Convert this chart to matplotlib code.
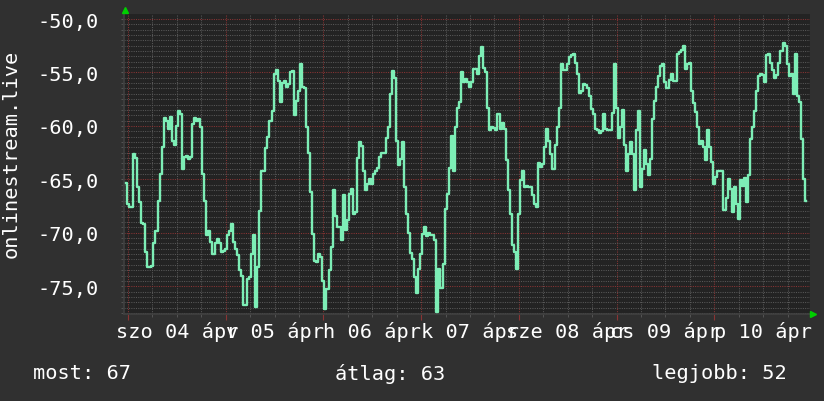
import numpy as np
import matplotlib
matplotlib.use("Agg")
import matplotlib.pyplot as plt
from matplotlib.ticker import MultipleLocator, FixedLocator, NullFormatter

# half-hourly samples, starting 03 Apr 23:30 (hours relative to 04 Apr 00:00)
start_hour = -0.5
step_hour = 0.5
values = [
    -65.3, -67.3, -67.6, -67.6, -62.6, -63.0, -65.7, -67.1, -69.1, -69.2,
    -71.8, -73.2, -73.2, -73.1, -71.0, -69.8, -67.0, -64.5, -62.0, -59.3,
    -59.5, -60.3, -59.2, -61.4, -61.8, -60.0, -58.6, -58.9, -64.0, -62.9,
    -62.8, -63.1, -62.9, -59.8, -59.3, -59.5, -59.4, -60.1, -64.5, -67.0,
    -70.2, -69.8, -70.9, -72.0, -71.0, -70.6, -71.0, -71.8, -71.7, -71.5,
    -70.2, -69.8, -69.2, -70.9, -71.5, -72.1, -73.5, -74.0, -76.8, -76.8,
    -74.3, -74.1, -72.0, -70.2, -76.9, -73.2, -68.0, -64.2, -64.2, -62.1,
    -61.0, -59.5, -58.6, -55.1, -54.8, -55.8, -57.8, -56.0, -55.8, -56.4,
    -56.1, -55.0, -54.9, -59.0, -57.7, -56.7, -54.2, -56.4, -56.5, -60.1,
    -62.5, -66.2, -70.1, -72.6, -72.7, -72.0, -72.3, -74.5, -77.1, -75.3,
    -73.5, -71.3, -66.0, -68.4, -69.5, -69.5, -70.7, -66.5, -69.7, -68.8,
    -66.4, -65.9, -68.2, -68.1, -63.0, -61.5, -61.9, -64.2, -66.0, -65.4,
    -65.0, -65.4, -64.5, -64.2, -63.9, -62.9, -62.5, -62.5, -61.1, -60.1,
    -57.0, -54.9, -55.5, -61.4, -63.7, -63.1, -61.5, -65.7, -68.2, -70.0,
    -71.9, -72.5, -74.1, -75.6, -73.4, -72.0, -70.1, -69.5, -70.3, -70.0,
    -70.2, -70.2, -70.7, -77.4, -73.4, -75.2, -72.9, -67.8, -66.4, -63.9,
    -60.9, -64.2, -60.1, -58.3, -57.8, -55.0, -55.9, -55.6, -55.9, -56.4,
    -55.9, -54.7, -54.7, -55.1, -53.5, -52.6, -54.6, -55.0, -58.3, -60.4,
    -60.1, -60.2, -60.4, -58.9, -60.3, -59.7, -60.3, -63.2, -66.0, -68.2,
    -71.1, -71.8, -73.4, -68.2, -65.1, -64.2, -65.7, -65.6, -65.7, -65.7,
    -66.5, -67.3, -67.6, -63.5, -63.8, -63.6, -62.0, -60.3, -61.4, -62.6,
    -64.0, -61.8, -60.1, -58.3, -54.2, -54.8, -54.8, -54.2, -53.6, -53.4,
    -53.3, -54.1, -55.1, -56.9, -56.7, -56.1, -56.2, -56.5, -57.2, -58.4,
    -58.9, -60.3, -60.4, -60.7, -60.5, -58.9, -60.3, -60.4, -60.4, -58.8,
    -54.2, -58.3, -61.1, -60.1, -58.5, -61.8, -64.2, -62.6, -61.5, -62.6,
    -66.0, -60.4, -58.6, -65.7, -64.0, -62.3, -63.6, -64.6, -63.1, -59.4,
    -57.7, -56.4, -55.3, -54.4, -54.2, -55.9, -56.5, -55.7, -55.1, -55.8,
    -55.8, -53.3, -53.1, -52.9, -52.5, -54.7, -54.2, -54.1, -56.7, -57.9,
    -58.7, -60.1, -61.7, -61.4, -62.0, -63.2, -60.4, -62.0, -63.4, -65.4,
    -64.8, -64.2, -64.2, -64.2, -67.9, -66.7, -65.0, -65.9, -68.1, -65.7,
    -67.3, -68.7, -65.1, -65.6, -64.9, -67.1, -64.6, -61.2, -60.1, -58.6,
    -56.7, -55.3, -55.1, -55.2, -55.9, -53.4, -53.3, -54.1, -54.8, -55.5,
    -55.2, -54.1, -53.0, -52.2, -52.5, -54.2, -55.3, -55.1, -57.0, -53.3,
    -57.2, -57.8, -61.2, -65.0, -67.0,
]
hours = start_hour + step_hour * np.arange(len(values))

day_labels = ["szo 04 ápr", "v 05 ápr", "h 06 ápr", "k 07 ápr",
              "sze 08 ápr", "cs 09 ápr", "p 10 ápr"]
y_label = "onlinestream.live"
legend_items = ["most: 67", "átlag: 63", "legjobb: 52"]

bg = "#303030"
canvas = "#232323"
line_col = "#7deeb6"
mono = "DejaVu Sans Mono"
fs = 14.6

fig = plt.figure(figsize=(8.24, 4.02), dpi=100, facecolor=bg)
ax = fig.add_axes([124 / 824, 1 - 315 / 402, (810 - 124) / 824, (315 - 15) / 402])
ax.set_facecolor(canvas)

ax.set_xlim(-0.98, 167.5)
ax.set_ylim(-77.6, -49.53)

ax.yaxis.set_major_locator(MultipleLocator(5))
ax.yaxis.set_minor_locator(MultipleLocator(0.5))
ax.xaxis.set_major_locator(FixedLocator(np.arange(0, 168, 24)))
ax.xaxis.set_minor_locator(MultipleLocator(6))
ax.xaxis.set_major_formatter(NullFormatter())

dots = (0, (1, 1.2))
ax.grid(which="minor", color="#585858", linestyle=dots, linewidth=0.75)
ax.grid(which="major", color="#8a3434", linestyle=dots, linewidth=0.75)
ax.set_axisbelow(True)

ax.set_yticklabels([f"{v:.1f}".replace(".", ",") for v in ax.get_yticks()],
                   fontfamily=mono, fontsize=fs, color="white")
ax.tick_params(axis="y", which="both", length=2, color="#5a5a5a", pad=16)
ax.tick_params(axis="x", which="major", length=4, color="#8a3434", direction="out")
ax.tick_params(axis="x", which="minor", length=2, color="#5a5a5a", direction="out")
for s in ax.spines.values():
    s.set_visible(False)
ax.axhline(-77.6, color="#404040", lw=1.2, clip_on=False)
ax.axvline(-0.98, color="#404040", lw=1.2, clip_on=False)

ax.plot(hours, values, color=line_col, lw=1.7, drawstyle="steps-mid", zorder=3)

# rrd style arrows
ax.plot([0.002], [1.012], marker="^", color="#00d000", ms=5, transform=ax.transAxes, clip_on=False)
ax.plot([1.004], [0.0], marker=">", color="#00d000", ms=5, transform=ax.transAxes, clip_on=False)

for i, lab in enumerate(day_labels):
    ax.text(12 + 24 * i, -0.055, lab, transform=ax.get_xaxis_transform(),
            ha="center", va="center", fontfamily=mono, fontsize=fs, color="white")

fig.text(11 / 824, 1 - 154 / 402, y_label, rotation=90, ha="center", va="center",
         fontfamily=mono, fontsize=fs, color="white")

for xpos, txt in zip([33, 335, 652], legend_items):
    fig.text(xpos / 824, 1 - 374 / 402, txt, ha="left", va="center",
             fontfamily=mono, fontsize=fs, color="white")

fig.savefig("out.png", dpi=100, facecolor=bg)
